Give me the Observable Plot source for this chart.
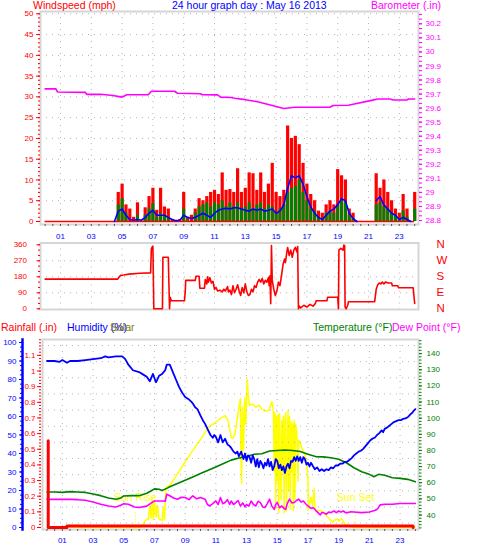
<!DOCTYPE html>
<html><head><meta charset="utf-8">
<script src="https://cdn.jsdelivr.net/npm/d3@7"></script>
<script src="https://cdn.jsdelivr.net/npm/@observablehq/plot@0.6"></script>
<style>
body{margin:0;background:#fff;}
#chart{position:relative;width:478px;height:555px;overflow:hidden;font-family:"Liberation Sans",Arial,sans-serif;background:#fff;}
.lbl{position:absolute;font-size:10.5px;line-height:11px;white-space:nowrap;}
</style></head>
<body><div id="chart"></div>
<script>
// ---------- DATA ----------
const oddHours = [1,3,5,7,9,11,13,15,17,19,21,23];
const halfHours = d3.range(0, 24.01, 0.5);
const mphTicks = [0,5,10,15,20,25,30,35,40,45,50];
const baroTicks = [28.8,28.9,29,29.1,29.2,29.3,29.4,29.5,29.6,29.7,29.8,29.9,30,30.1,30.2];
const dirTicks = [0,90,180,270,360];
const dirLetters = ["N","E","S","W","N"];
const humTicks = [0,10,20,30,40,50,60,70,80,90,100];
const rainTicks = [0,0.1,0.2,0.3,0.4,0.5,0.6,0.7,0.8,0.9,1,1.1];
const tempTicks = [40,50,60,70,80,90,100,110,120,130,140];

// wind, every 15 minutes from 00:00 to 24:00
const windHours = d3.range(0, 24.01, 0.25);
const gust = [0,0,0,0,0,0,0,0,0,0,0,0,0,0,0,0,0,0,0,
  7,9,4,3,1,4.5,0,3.3,6,8,2.7,8,3.5,3,0.5,0,0.5,7,1,1.5,3,
  5.5,5,6,7,7.5,6.5,11.7,7.5,7.7,7,12.7,7,8,11.7,11.5,7.5,11.7,7,9,14,
  7,6,7.5,23,20,20.5,18.5,14,9,6.5,5,2.5,2,4,5,4,12.5,11,10,3,
  2,0,0,0,0,0,11.5,8,10,7,5,3,2,6.5,3,0,7];
const speed = [0,0,0,0,0,0,0,0,0,0,0,0,0,0,0,0,0,0,0,
  4,5.5,2,0,0,1.5,0,1.5,3,4.3,1,2,1.5,1,0,0,0,3,0.5,0,2,
  3.5,4,4.5,3.5,4.5,4,5,3.5,4.5,3.5,4.5,3,3.5,4.5,3,4,4.5,3,4,3.5,
  2,3,4,7,8,8.5,10,7,5,3,2.5,1,0.5,2,2.5,2,4,5,4.5,1.5,
  0.5,0,0,0,0,0,4,4.5,3.5,3,2,1.5,0.5,2.5,1,0,3];
const avgSpeed = [null,null,null,null,null,null,null,null,null,null,null,null,null,null,null,null,null,null,0,
  2.5,3,1.5,0.5,0.3,0.5,0.3,1,2,2.7,1.5,1.5,1.5,1,0.5,0.2,0.3,1.5,1,0.7,1,
  1.5,2,1.5,1,2,2.7,3,3.2,3,3.3,3.3,3,2.7,2.5,3,2.7,3,2.5,2.7,3,
  2,2.5,4,8,11,10.5,11,9,6,3.5,2,1,0.5,1.5,2.5,3,4,5.5,5,2,
  0.7,0,null,null,null,null,5,6,4,3,2,1.5,0.5,1,0.5,0,null];

const baroHours = [0,0.7,0.8,2.6,2.7,3.6,4.4,5,5.3,6.7,6.9,8.4,8.6,10.1,10.2,11.2,11.4,12.1,12.3,13,13.8,14.5,15,15.5,16.2,18.5,18.7,19.7,20,21.2,21.6,22.4,22.6,23.5,23.6,24];
const baroVals  = [29.737,29.737,29.715,29.712,29.698,29.698,29.69,29.678,29.695,29.695,29.72,29.72,29.706,29.702,29.695,29.694,29.678,29.675,29.67,29.66,29.645,29.625,29.612,29.597,29.606,29.606,29.618,29.62,29.628,29.655,29.665,29.665,29.658,29.658,29.665,29.665];

const dirHours = [0,4.72,4.8,4.9,5.1,5.45,6.15,6.85,6.9,6.97,7.0,7.06,7.62,7.65,8.0,8.04,8.08,8.12,8.2,9.05,9.1,9.13,9.75,9.8,10.0,10.05,10.35,10.4,10.5,10.55,10.6,10.7,10.8,10.9,11.0,11.1,11.2,11.35,11.5,11.6,11.7,11.85,11.9,12.0,12.1,12.2,12.3,12.4,12.5,12.6,12.7,12.8,12.9,13.0,13.1,13.2,13.3,13.4,13.5,13.6,13.7,13.8,13.9,14.0,14.1,14.2,14.3,14.4,14.5,14.55,14.6,14.65,14.7,14.75,14.85,14.95,15.05,15.15,15.25,15.35,15.45,15.55,15.6,15.7,15.75,15.85,15.95,16.05,16.15,16.25,16.35,16.4,16.45,16.5,16.6,16.8,17.0,17.2,17.4,17.55,17.6,18.3,18.35,19.0,19.05,19.08,19.2,19.35,19.4,19.45,19.48,19.55,19.65,19.7,21.4,21.5,21.6,21.7,21.8,21.9,22.0,22.1,22.3,22.5,22.55,22.9,22.95,23.9,24.0];
const dirDeg   = [167,167,178,188,190,195,200,202,337,350,352,0,0,290,290,140,0,65,45,45,95,160,160,183,183,116,116,165,140,180,150,175,145,155,110,120,100,105,95,110,100,125,95,105,80,130,90,110,135,100,75,120,90,140,95,75,80,110,95,130,120,150,165,150,170,140,160,150,175,130,185,28,356,160,110,75,100,150,130,185,250,280,260,320,345,300,330,290,330,345,320,350,0,15,5,20,10,25,15,30,45,45,65,65,0,330,340,330,358,355,10,0,20,40,40,110,135,145,140,150,140,150,145,145,130,130,118,118,30];

const humHours = [0,0.5,0.8,1.0,1.3,1.5,2,2.5,3,3.5,3.8,4,4.5,4.9,5.1,5.3,5.6,6,6.3,6.5,6.7,6.9,7.1,7.3,7.5,7.7,7.8,8.0,8.2,8.4,8.6,8.8,9.0,9.2,9.4,9.5,9.65,9.8,10,10.15,10.3,10.5,10.65,10.8,10.9,11,11.15,11.3,11.45,11.6,11.75,11.9,12,12.15,12.3,12.4,12.5,12.65,12.8,12.9,13.0,13.1,13.2,13.3,13.4,13.5,13.6,13.7,13.8,13.9,14.0,14.1,14.2,14.3,14.4,14.5,14.6,14.7,14.8,14.9,15.0,15.1,15.2,15.3,15.4,15.5,15.6,15.7,15.8,15.9,16.0,16.1,16.2,16.3,16.4,16.5,16.6,16.7,16.8,16.9,17.0,17.1,17.2,17.3,17.45,17.6,17.75,17.9,18.05,18.2,18.35,18.5,18.65,18.8,18.95,19.1,19.25,19.4,19.55,19.7,19.85,20.0,20.15,20.3,20.45,20.6,20.75,20.9,21.05,21.2,21.35,21.5,21.65,21.8,21.9,22,22.15,22.3,22.45,22.6,22.75,22.9,23.05,23.2,23.35,23.5,23.6,23.7,23.8,23.9,24];
const humVals  = [90,90,89.5,90.5,89,90,90,90.5,91,91.5,92.5,92,92.5,92.5,91,88,85,84,82.5,81.5,79,83,78.5,82,83,85,88,88,84,80,76,73,70.5,69.5,68,67,65,64,60.5,58,56,52.5,50,48.5,50,49,46,50,46,48,45,44,43,41,40,41,38.5,41,37,40,36,39,38,35,39,37,33,37,32.5,36,34.5,32,35,33.5,37,33,35.5,31,33,37,36,32,34,31,33,29.5,33,34.5,32,36,35.5,38,36,38.5,36,38,35,38,37,34,35,33,35,33.5,31.5,32.5,30.5,31.5,30.5,31.5,31,32.5,32,33.5,33.5,34.5,34.5,35.5,35.5,36.5,37.5,39,40,41,41.5,42.5,44,45.5,47,48,48.5,50,51,52.5,51.5,53.3,54,55,56,57,57.5,58,58,58.7,59,59.6,60.5,61.4,62,63.2,64];

const tempHours = [0,0.5,1,1.5,2,2.5,3,3.5,4,4.5,4.8,5,5.5,6,6.5,6.8,7,7.3,7.5,7.8,8,8.5,9,9.5,10,10.5,11,11.5,12,12.5,13,13.5,14,14.5,15,15.5,16,16.5,17,17.5,18,18.5,19,19.5,20,20.5,21,21.3,21.6,22,22.5,23,23.5,24];
const tempVals  = [54.3,54.3,54,54.5,54.3,54,53,52,50.5,49.8,50.5,51.8,52,52,53.5,55,56.2,56,55.2,56.5,57.5,59.5,61.6,63.6,65.7,67.7,69.8,71.9,74,75.3,76.2,77.6,78,79.7,80,80.3,80,79.3,77.6,76.2,76,75.5,74.5,72.4,69.3,66.8,65.2,63.7,65.2,64.6,63.1,62.7,62.1,60.6];

const dewHours = [0,1.5,2,2.5,3,3.5,4,4.5,4.8,5,5.3,5.7,6,6.5,6.8,7,7.5,7.7,7.8,8,8.25,8.5,8.75,9,9.25,9.5,9.75,10,10.3,10.45,10.6,10.8,11,11.15,11.3,11.45,11.6,11.75,11.9,12,12.15,12.3,12.45,12.6,12.75,12.9,13,13.15,13.3,13.45,13.6,13.75,13.9,14.05,14.2,14.35,14.5,14.65,14.8,14.9,15,15.15,15.3,15.45,15.55,15.65,15.8,15.95,16.1,16.25,16.4,16.55,16.7,16.85,17,17.2,17.35,17.5,17.65,17.8,17.9,18,18.2,18.35,18.5,18.7,18.85,19,19.15,19.3,19.45,19.6,19.8,20,20.5,21,21.4,21.55,21.7,22,22.5,23,23.5,24];
const dewVals  = [49.7,49.7,49.5,49.1,48.1,46.7,45.6,45,46,47,46.7,45,44.6,45.5,47.5,48.7,48.7,48.5,52.9,51.9,50.5,49.8,51,50.8,49.5,51.9,50,50.8,49.8,46.5,45.6,47,48.7,46.5,50.8,47,47.7,49.5,46.5,48.7,46.5,47.7,49,45.6,47.5,45,46.5,45.5,48.7,46.5,45.6,48.5,47.7,45,44.6,47,49.8,45.5,43.5,46.5,47.7,44.5,45.6,44,43.5,47,49.8,47.5,47.7,49,49.8,48,48.7,47,45.6,44.1,44.5,42.9,41.5,40,41.5,41.5,40.5,41.8,41.5,42.5,41.5,42.5,41.8,42.5,41.5,41.5,42,41.9,41.5,41.9,42.9,44,46.3,46.7,46.7,47.1,47.1,47.1];

const solarHours = [0,1.0,1.15,1.35,1.55,1.75,6.1,6.25,6.4,6.6,6.7,6.78,6.85,6.92,7.0,7.1,7.2,7.3,7.5,7.58,7.65,7.75,8,8.5,9,9.5,10,10.5,11,11.3,11.6,11.8,12,12.1,12.25,12.5,12.6,12.63,12.68,12.73,12.8,12.88,12.95,13.05,13.12,13.2,13.4,13.6,13.8,14,14.2,14.45,14.65,14.75,14.8,14.85,14.9,14.95,15.0,15.05,15.1,15.15,15.25,15.3,15.35,15.4,15.45,15.5,15.55,15.6,15.7,15.75,15.8,15.85,15.9,15.95,16.0,16.05,16.1,16.15,16.2,16.3,16.35,16.4,16.5,16.6,16.7,16.8,16.9,17.0,17.02,17.1,17.2,17.3,17.4,17.45,17.5,17.8,18,18.3,18.6,18.75,18.9,19.0,19.2,19.4,19.7,20,24];
const solarVals  = [0,0,6,10,4,0,0,15,38,46,119,50,155,45,137,55,120,46,38,110,40,218,227,290,354,417,475,542,569,590,605,578,488,480,506,650,696,400,238,650,420,700,560,800,700,660,668,650,662,640,630,632,681,632,300,620,100,600,250,610,80,614,150,580,300,600,80,560,620,90,632,200,600,100,570,300,560,90,580,150,560,479,250,470,461,430,410,398,350,272,92,130,164,120,209,110,92,92,83,56,29,40,47,35,47,20,7,0,0];

const rainHours = [0.08,0.08,1.3,1.3,23.85,23.85];
const rainVals  = [0.555,0,0,0.01,0.01,0];

const sunEvents = [{label: "Sun Rise", h: 5.75}, {label: "Sun Set", h: 20.1}];

// ---------- TABLES ----------
const wind = windHours.map((h, i) => ({h, gust: gust[i], speed: speed[i], avg: avgSpeed[i]}));
const baro = baroHours.map((h, i) => ({h, v: baroVals[i]}));
const dir = dirHours.map((h, i) => ({h, v: dirDeg[i]}));
const hum = humHours.map((h, i) => ({h, v: humVals[i]}));
const temp = tempHours.map((h, i) => ({h, v: tempVals[i]}));
const dew = dewHours.map((h, i) => ({h, v: dewVals[i]}));
const solar = solarHours.map((h, i) => ({h, v: solarVals[i]}));
const rain = rainHours.map((h, i) => ({h, v: rainVals[i]}));

// ---------- DRAW ----------
const chart = document.getElementById("chart");
const FONT = '"Liberation Sans", Arial, sans-serif';
const GRID = "#b4b4b4", FRAME = "#d6d6d6";
const hourFmt = d => String(d).padStart(2, "0");
const blank = () => "";

function addPlot(top, height, options) {
  const svg = Plot.plot({
    width: 478, height, ...options,
    style: {background: "transparent", overflow: "visible", fontFamily: FONT, fontSize: "8px"}
  });
  svg.style.position = "absolute";
  svg.style.left = "0px";
  svg.style.top = top + "px";
  chart.appendChild(svg);
}
function label(text, left, top, color) {
  const d = document.createElement("div");
  d.className = "lbl"; d.textContent = text;
  d.style.left = left + "px"; d.style.top = top + "px"; d.style.color = color;
  chart.appendChild(d);
}
const dots = {stroke: GRID, strokeOpacity: 1, strokeDasharray: "1,5"};

// --- top panel: wind speed ---
const topM = {marginTop: 11, marginBottom: 21, marginLeft: 40, marginRight: 60};
const topX = {domain: [-0.299, 24.247], axis: null};
addPlot(0, 245, {
  ...topM, x: topX, y: {domain: [-0.722, 50.554], axis: null},
  marks: [
    Plot.gridX(oddHours, dots),
    Plot.gridY(mphTicks.slice(1), dots),
    Plot.frame({stroke: FRAME, strokeWidth: 2}),
    Plot.ruleY([0], {x1: windHours[0], x2: windHours[windHours.length - 1], stroke: "#ff0000", strokeWidth: 1.3}),
    Plot.ruleX(wind, {x: "h", y1: 0, y2: "gust", stroke: "#ff0000", strokeWidth: 3.2}),
    Plot.ruleX(wind, {x: "h", y1: 0, y2: "speed", stroke: "#008000", strokeWidth: 3.0}),
    Plot.line(wind, {x: "h", y: "avg", stroke: "#0000ff", strokeWidth: 1.6}),
    Plot.axisY(d3.range(0, 51), {anchor: "left", color: "#ff0000", tickSize: 2, tickFormat: blank, label: null}),
    Plot.axisY(mphTicks, {anchor: "left", color: "#ff0000", tickSize: 4, tickPadding: 3, fontSize: 8, label: null}),
    Plot.axisX(halfHours, {anchor: "bottom", stroke: "#555", tickSize: 2, tickFormat: blank, label: null}),
    Plot.axisX(oddHours, {anchor: "bottom", color: "#0000ff", tickSize: 0, tickPadding: 9, tickFormat: hourFmt, fontSize: 8, label: null})
  ]
});
// barometer overlay
addPlot(0, 245, {
  ...topM, x: topX, y: {domain: [28.7715, 30.2875], axis: null},
  marks: [
    Plot.line(baro, {x: "h", y: "v", stroke: "#ff00ff", strokeWidth: 1.6}),
    Plot.axisY(d3.range(0, 45).map(i => 28.8 + i / 30), {anchor: "right", color: "#ff00ff", tickSize: 3, tickFormat: blank, label: null}),
    Plot.axisY(baroTicks, {anchor: "right", color: "#ff00ff", tickSize: 3, tickPadding: 4, fontSize: 8, tickFormat: d => String(+d.toFixed(1)), label: null})
  ]
});

// --- wind direction panel ---
addPlot(235, 80, {
  marginTop: 7.5, marginBottom: 6, marginLeft: 40, marginRight: 60,
  x: topX, y: {domain: [-3.94, 370.1], axis: null},
  marks: [
    Plot.gridX(oddHours, dots),
    Plot.gridY([90, 180, 270], dots),
    Plot.frame({stroke: FRAME, strokeWidth: 2}),
    Plot.line(dir, {x: "h", y: "v", stroke: "#ff0000", strokeWidth: 1.6}),
    Plot.axisY(d3.range(0, 361, 30), {anchor: "left", color: "#ff0000", tickSize: 2, tickFormat: blank, label: null}),
    Plot.axisY(dirTicks, {anchor: "left", color: "#ff0000", tickSize: 3.5, tickPadding: 10, fontSize: 8, label: null}),
    Plot.axisY(dirTicks, {anchor: "right", color: "#ff0000", tickSize: 0, tickPadding: 18, fontSize: 11.5,
      tickFormat: d => dirLetters[dirTicks.indexOf(d)], label: null})
  ]
});

// --- bottom panel ---
const botM = {marginTop: 29, marginBottom: 26, marginLeft: 42, marginRight: 60};
const botX = {domain: [-0.293, 24.202], axis: null};
const tempY = {domain: [31.02, 148.74], axis: null};
const humY = {domain: [-1.081, 101.62], axis: null};
const rainY = {domain: [-0.0128, 1.2013], axis: null};
const solarY = {domain: [-10.81, 1016.2], axis: null};

// grid + frame + solar
addPlot(310, 245, {
  ...botM, x: botX, y: solarY,
  marks: [
    Plot.gridX(oddHours, dots),
    Plot.frame({stroke: FRAME, strokeWidth: 2}),
    Plot.line(solar, {x: "h", y: "v", stroke: "#ffff00", strokeWidth: 1.5}),
    Plot.ruleX(sunEvents, {x: "h", y1: -8, y2: 82, stroke: "#ffff00", strokeWidth: 1.2, strokeDasharray: "1,2"}),
    Plot.text(sunEvents, {x: "h", y: 160, text: "label", fill: "#ffff00", fontSize: 10.5}),
    Plot.axisX(halfHours, {anchor: "bottom", stroke: "#555", tickSize: 2, tickFormat: blank, label: null}),
    Plot.axisX(oddHours, {anchor: "bottom", color: "#0000ff", tickSize: 0, tickPadding: 8, tickFormat: hourFmt, fontSize: 8, label: null})
  ]
});
// temperature & dew point
addPlot(310, 245, {
  ...botM, x: botX, y: tempY,
  marks: [
    Plot.gridY(d3.range(35, 146, 10), dots),
    Plot.line(temp, {x: "h", y: "v", stroke: "#008000", strokeWidth: 1.6}),
    Plot.line(dew, {x: "h", y: "v", stroke: "#ff00ff", strokeWidth: 1.6}),
    Plot.axisY(d3.range(32, 149, 2), {anchor: "right", color: "#008000", tickSize: 2.5, tickFormat: blank, label: null}),
    Plot.axisY(tempTicks, {anchor: "right", color: "#008000", tickSize: 3, tickPadding: 5, fontSize: 8, label: null})
  ]
});
// humidity
addPlot(310, 245, {
  ...botM, x: botX, y: humY,
  marks: [
    Plot.line(hum, {x: "h", y: "v", stroke: "#0000ff", strokeWidth: 1.8})
  ]
});
// humidity axis (offset to the left)
addPlot(310, 245, {
  marginTop: 29, marginBottom: 26, marginLeft: 22, marginRight: 60, y: humY,
  marks: [
    Plot.frame({anchor: "left", stroke: "#0000ff", strokeWidth: 2.5}),
    Plot.axisY(d3.range(0, 101, 2.5), {anchor: "left", color: "#0000ff", tickSize: 2, tickFormat: blank, label: null}),
    Plot.axisY(humTicks, {anchor: "left", color: "#0000ff", tickSize: 3, tickPadding: 3, fontSize: 8, label: null})
  ]
});
// rainfall
addPlot(310, 245, {
  ...botM, x: botX, y: rainY,
  marks: [
    Plot.line(rain, {x: "h", y: "v", stroke: "#ff0000", strokeWidth: 3})
  ]
});
addPlot(310, 245, {
  marginTop: 29, marginBottom: 26, marginLeft: 41, marginRight: 60, y: rainY,
  marks: [
    Plot.axisY(d3.range(0, 61).map(i => i * 0.02), {anchor: "left", color: "#ff0000", tickSize: 2, tickFormat: blank, label: null}),
    Plot.axisY(rainTicks, {anchor: "left", color: "#ff0000", tickSize: 4, tickPadding: 2, fontSize: 8, tickFormat: d => String(+d.toFixed(1)), label: null})
  ]
});

// ---------- TEXT LABELS ----------
label("Windspeed (mph)", 33, 0, "#ff0000");
label("24 hour graph day : May 16 2013", 172, 0, "#0000ff");
label("Barometer (.in)", 371, 0, "#ff00ff");
label("Rainfall (.in)", 1, 322, "#ff0000");
label("Humidity (%)", 67, 322, "#0000ff");
label("Solar", 110, 322, "#808000");
label("Temperature (°F)", 313, 322, "#008000");
label("Dew Point (°F)", 392, 322, "#ff00ff");
</script>
</body></html>
